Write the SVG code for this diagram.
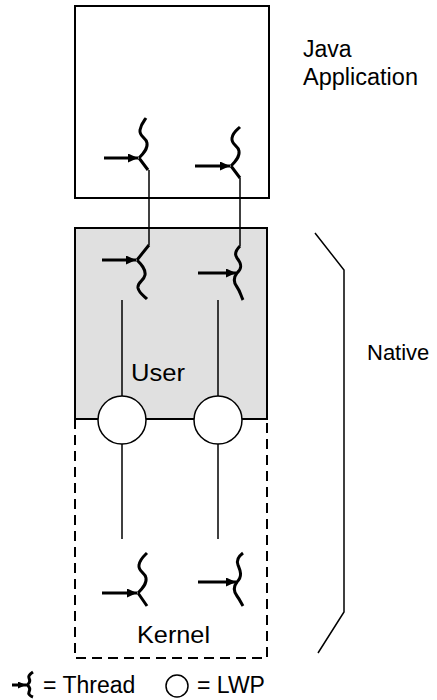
<svg xmlns="http://www.w3.org/2000/svg" width="437" height="700" viewBox="0 0 437 700">
<style>
.box{fill:#fff;stroke:#000;stroke-width:2}
.shade{fill:#e0e0e0;stroke:#000;stroke-width:2}
.dash{fill:none;stroke:#000;stroke-width:2;stroke-dasharray:10,6}
.thr{fill:none;stroke:#000;stroke-width:3;stroke-linecap:butt}
.arr{fill:none;stroke:#000;stroke-width:3}
.conn{fill:none;stroke:#000;stroke-width:1.5}
.lwp{fill:#fff;stroke:#000;stroke-width:1.5}
text{font-family:"Liberation Sans",Arial,sans-serif;fill:#000}
</style>
<defs>
<marker id="ah" markerUnits="userSpaceOnUse" markerWidth="10" markerHeight="9" refX="10" refY="4.5" orient="auto">
<path d="M0,0 L10,4.5 L0,9 z" fill="#000"/>
</marker>
<marker id="ahs" markerUnits="userSpaceOnUse" markerWidth="8" markerHeight="7" refX="8" refY="3.5" orient="auto">
<path d="M0,0 L8,3.5 L0,7 z" fill="#000"/>
</marker>
</defs>

<g id="java-app">
<rect class="box" x="75" y="6" width="194" height="192"/>
<text x="303" y="57" font-size="23">Java</text>
<text x="303" y="85" font-size="23" textLength="115" lengthAdjust="spacingAndGlyphs">Application</text>
</g>

<g id="native-user">
<rect class="shade" x="75" y="228" width="192" height="191"/>
<text x="131" y="381" font-size="24" textLength="54" lengthAdjust="spacingAndGlyphs">User</text>
</g>

<g id="native-kernel">
<path class="dash" d="M75,419 V658 H267 V419"/>
<text x="137" y="643" font-size="24" textLength="73" lengthAdjust="spacingAndGlyphs">Kernel</text>
</g>

<g id="native-bracket">
<polyline class="conn" points="315,233 344,270 344,612 318,653"/>
<text x="367" y="360" font-size="22">Native</text>
</g>

<g id="connectors">
<line class="conn" x1="149" y1="170" x2="149" y2="245"/>
<line class="conn" x1="240" y1="178" x2="240" y2="246"/>
<line class="conn" x1="122" y1="300" x2="122" y2="396"/>
<line class="conn" x1="218" y1="300" x2="218" y2="396"/>
<line class="conn" x1="75" y1="419" x2="267" y2="419"/>
<line class="conn" x1="122" y1="444" x2="122" y2="539"/>
<line class="conn" x1="218" y1="444" x2="218" y2="539"/>
</g>

<g id="lwp1"><circle class="lwp" cx="122" cy="420" r="24"/></g>
<g id="lwp2"><circle class="lwp" cx="218" cy="420" r="24"/></g>

<g id="java-thread1" transform="translate(139,158)">
<path class="thr" d="M0,0 C4,-4 9,-9 8,-15 C7,-21 0,-21 1,-28 C2,-34 5,-37 7,-40 M0,0 L9,12"/>
<line class="arr" x1="-35" y1="0" x2="-1" y2="0" marker-end="url(#ah)"/>
</g>
<g id="java-thread2" transform="translate(231,166)">
<path class="thr" d="M0,0 C4,-4 9,-9 8,-15 C7,-21 0,-21 1,-28 C2,-34 6,-36 9,-39 M0,0 L9,12"/>
<line class="arr" x1="-36" y1="0" x2="-1" y2="0" marker-end="url(#ah)"/>
</g>

<g id="user-thread1" transform="translate(137,260)">
<path class="thr" d="M0,0 L12,-15 M0,0 C4,4 9,9 8,15 C7,21 0,22 1,28 C2,33 7,36 10,39"/>
<line class="arr" x1="-35" y1="0" x2="-1" y2="0" marker-end="url(#ah)"/>
</g>
<g id="user-thread2" transform="translate(237,273)">
<path class="thr" d="M3,-27 C-1,-23 -3,-19 0,-15 C4,-10 6,-5 0,0 C-4,5 -3,10 0,14 C3,18 4,23 6,27"/>
<line class="arr" x1="-39" y1="0" x2="-1" y2="0" marker-end="url(#ah)"/>
</g>

<g id="kernel-thread1" transform="translate(138,593)">
<path class="thr" d="M0,0 C4,-4 9,-9 8,-15 C7,-21 0,-21 1,-28 C2,-34 6,-37 9,-40 M0,0 L9,13"/>
<line class="arr" x1="-36" y1="0" x2="-1" y2="0" marker-end="url(#ah)"/>
</g>
<g id="kernel-thread2" transform="translate(237,582)">
<path class="thr" d="M6,-29 C2,-26 -1,-22 1,-17 C3,-12 6,-6 0,0 C-4,5 -3,10 0,14 C3,18 4,21 6,24"/>
<line class="arr" x1="-39" y1="0" x2="-1" y2="0" marker-end="url(#ah)"/>
</g>

<g id="legend">
<g transform="translate(27,685)">
<path class="thr" d="M6,-13 C3,-11 1,-9 2,-7 C3,-5 3,-2 0,0 C3,2 3,5 2,7 C1,9 3,11 6,12" stroke-width="2.5"/>
<line class="arr" x1="-15" y1="0" x2="-1" y2="0" stroke-width="2.5" marker-end="url(#ahs)"/>
</g>
<text x="43" y="693" font-size="23">= Thread</text>
<circle class="lwp" cx="177" cy="686" r="11"/>
<text x="197" y="693" font-size="23">= LWP</text>
</g>
</svg>
